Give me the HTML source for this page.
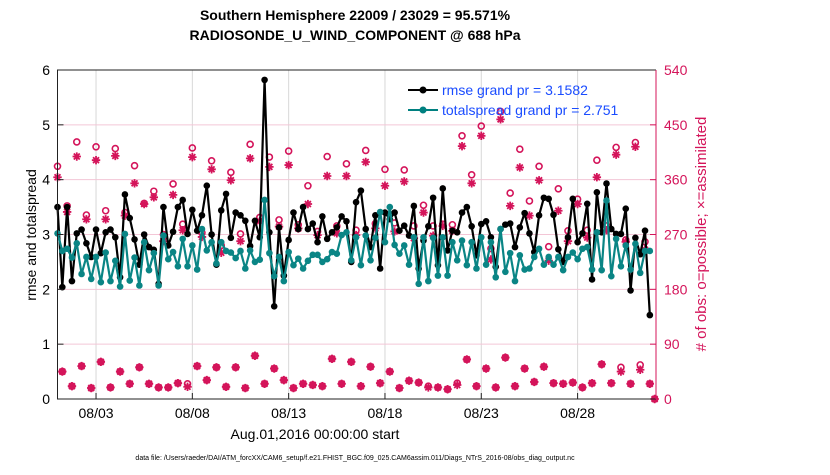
<!DOCTYPE html>
<html><head><meta charset="utf-8"><style>
body{margin:0;background:#fff;}
svg text{font-family:"Liberation Sans",sans-serif;}
</style></head><body>
<svg id="chart" width="830" height="470" viewBox="0 0 830 470" xmlns="http://www.w3.org/2000/svg">
<text x="355" y="20" text-anchor="middle" font-size="14" font-weight="bold">Southern Hemisphere 22009 / 23029 = 95.571%</text>
<text x="355" y="40" text-anchor="middle" font-size="14" font-weight="bold">RADIOSONDE_U_WIND_COMPONENT @ 688 hPa</text>
<g id="grid"></g>
<g id="marks"></g>
<g id="axes"></g>
<text transform="translate(36,235) rotate(-90)" text-anchor="middle" font-size="14">rmse and totalspread</text>
<text transform="translate(706,234) rotate(-90)" text-anchor="middle" font-size="15" fill="#d4145a"># of obs: o=possible; ×=assimilated</text>
<text x="315" y="439" text-anchor="middle" font-size="14">Aug.01,2016 00:00:00 start</text>
<text x="355" y="460" text-anchor="middle" font-size="7">data file: /Users/raeder/DAI/ATM_forcXX/CAM6_setup/f.e21.FHIST_BGC.f09_025.CAM6assim.011/Diags_NTrS_2016-08/obs_diag_output.nc</text>
<g>
<line x1="408" y1="90" x2="438" y2="90" stroke="#000" stroke-width="2"/><circle cx="423" cy="90" r="3.5" fill="#000"/>
<text x="442" y="95" font-size="14" fill="#1a4cff">rmse grand pr = 3.1582</text>
<line x1="408" y1="110" x2="438" y2="110" stroke="#008080" stroke-width="2"/><circle cx="423" cy="110" r="3.5" fill="#008080"/>
<text x="442" y="115" font-size="14" fill="#1a4cff">totalspread grand pr = 2.751</text>
</g>
</svg>
<script>
const rmse=[3.5,2.04,3.5,2.15,3.02,3.09,2.84,2.59,3.09,2.66,3.04,3.09,2.95,2.22,3.73,3.3,2.91,2.45,3.0,2.77,2.72,2.1,3.5,2.8,3.05,3.5,3.63,3.01,3.45,3.07,3.35,3.89,3.0,2.45,3.44,3.74,2.94,3.4,3.35,3.25,2.79,3.25,2.95,5.82,3.04,1.69,3.13,2.25,2.9,3.4,3.1,3.5,3.1,3.2,2.86,3.33,2.92,3.04,3.13,3.33,3.24,2.5,
3.59,3.8,3.1,2.77,3.35,2.38,3.4,3.28,3.4,3.07,3.16,2.98,3.52,2.38,2.89,3.15,3.67,2.44,3.84,2.71,3.07,3.04,3.4,3.5,3.15,2.62,3.19,3.24,2.95,2.41,3.1,3.18,3.2,2.77,3.13,3.39,3.02,2.68,3.35,3.67,3.65,3.36,2.73,2.5,2.95,3.65,2.86,3.02,3.56,2.18,3.77,3.04,3.93,3.1,3.01,3.01,3.47,1.98,2.94,2.64,3.07,1.53];
const spread=[3.02,2.7,2.74,2.58,2.84,2.28,2.59,2.19,2.59,2.13,2.67,2.15,2.52,2.05,3.01,2.16,2.58,2.07,2.86,2.35,2.66,2.07,2.98,2.55,2.68,2.42,2.92,2.42,2.8,2.36,3.1,2.71,2.86,2.47,2.86,2.7,2.67,2.57,2.7,2.38,2.71,2.5,2.54,3.63,2.66,2.24,2.59,2.15,2.68,2.44,2.56,2.38,2.52,2.63,2.63,2.5,2.55,2.68,2.65,2.99,3.04,2.53,
2.95,2.44,2.98,2.53,2.94,3.41,2.86,3.5,2.81,2.65,2.8,2.45,2.95,2.1,2.95,2.15,2.94,2.25,2.95,2.25,2.86,2.53,2.89,2.44,2.86,2.38,2.95,2.45,2.86,2.22,3.1,2.32,2.66,2.15,2.62,2.36,2.38,2.59,2.74,2.45,2.59,2.45,2.59,2.35,2.59,2.67,2.55,2.74,2.77,2.36,3.04,2.35,3.62,2.24,2.92,2.42,2.8,2.36,2.83,2.3,2.7,2.7];
const possible=[382,45,317,21,422,54,302,18,414,61,309,19,411,45,306,25,383,52,321,25,341,19,270,19,353,26,287,25,412,54,273,31,391,52,252,20,372,52,271,18,418,71,298,25,397,50,294,31,407,18,286,25,350,23,275,21,398,66,284,25,386,61,
277,21,408,53,288,26,377,45,289,18,376,30,284,27,318,21,284,19,287,16,286,26,432,65,368,21,448,50,247,19,472,68,338,21,410,50,325,28,382,53,250,26,345,25,276,27,328,19,277,26,392,57,284,26,413,52,261,25,421,56,258,25,0];
const assimilated=[364,45,307,21,398,54,295,18,392,61,295,19,399,45,301,25,354,52,320,25,331,19,259,19,335,26,277,20,397,54,266,31,377,52,240,20,359,52,259,18,395,71,292,25,381,50,283,31,384,18,280,25,320,23,269,21,366,66,272,25,366,61,
269,21,389,53,280,26,350,45,275,18,357,30,264,27,306,19,268,19,284,16,276,23,415,65,354,21,432,50,229,19,459,68,317,21,380,50,301,28,359,53,227,26,309,25,259,27,320,19,265,26,364,57,277,26,401,45,258,25,414,48,245,25,0];
const xTickDays=[2,7,12,17,22,27];
const xTickLabels=["08/03","08/08","08/13","08/18","08/23","08/28"];
const yTicks=[0,1,2,3,4,5,6];
const rTicks=[0,90,180,270,360,450,540];

const L=57.5,R=656,T=70,B=399,NS="http://www.w3.org/2000/svg";
const X0=0,X1=31.07;
const xs=d=>L+(d-X0)/(X1-X0)*(R-L);
const ys=v=>B-v/6*(B-T);
const yr=v=>B-v/540*(B-T);
const tAt=i=>i*0.25;
const CR="#d4145a";
function mk(parent,tag,attrs){const e=document.createElementNS(NS,tag);for(const k in attrs)e.setAttribute(k,attrs[k]);parent.appendChild(e);return e;}
const grid=document.getElementById('grid'),marks=document.getElementById('marks'),axes=document.getElementById('axes');
xTickDays.forEach((d,i)=>{
  const g=mk(grid,'line',{x1:xs(d),x2:xs(d),y1:T,y2:B,stroke:'#d8d8d8','stroke-width':1});
  
  
  const t=mk(axes,'text',{x:xs(d),y:418,'text-anchor':'middle','font-size':14});
  t.textContent=xTickLabels[i];
  
  
  mk(axes,'line',{x1:xs(d),x2:xs(d),y1:B,y2:B-6,stroke:'#222'});
});
yTicks.forEach(v=>{
  if(v>0&&v<6){const g=mk(grid,'line',{x1:L,x2:R,y1:ys(v),y2:ys(v),stroke:'#f3c6d6','stroke-width':1});
  
  }
  const t=mk(axes,'text',{x:50,y:ys(v)+5,'text-anchor':'end','font-size':14});
  t.textContent=v;
  
  
  mk(axes,'line',{x1:L,x2:L+6,y1:ys(v),y2:ys(v),stroke:'#222'});
});
rTicks.forEach(v=>{
  const t=mk(axes,'text',{x:664,y:yr(v)+5,'font-size':14,fill:CR});
  t.textContent=v;
  
  
  mk(axes,'line',{x1:R,x2:R-6,y1:yr(v),y2:yr(v),stroke:CR});
});
mk(axes,'polyline',{points:`${R},${T} ${L},${T} ${L},${B} ${R},${B}`,fill:'none',stroke:'#222','stroke-width':1});
mk(axes,'line',{x1:R,x2:R,y1:T,y2:B,stroke:CR,'stroke-width':1});

possible.forEach((v,i)=>{
  const c=mk(marks,'circle',{cx:xs(tAt(i)),cy:yr(v),r:3,fill:'none',stroke:CR,'stroke-width':1.6});
  
  
});
assimilated.forEach((v,i)=>{
  const cx=xs(tAt(i)),cy=yr(v),r=4.2;let d='';
  for(let k=0;k<4;k++){const a=k*Math.PI/4;d+=`M${cx-r*Math.cos(a)},${cy-r*Math.sin(a)}L${cx+r*Math.cos(a)},${cy+r*Math.sin(a)}`;}
  const p=mk(marks,'path',{d:d,stroke:CR,'stroke-width':1.8,fill:'none'});
  
  
});
function series(arr,col,name){
  const pl=mk(marks,'polyline',{points:arr.map((v,i)=>xs(tAt(i))+','+ys(v)).join(' '),fill:'none',stroke:col,'stroke-width':2.2,'stroke-linejoin':'round'});
  
  
  arr.forEach((v,i)=>{const c=mk(marks,'circle',{cx:xs(tAt(i)),cy:ys(v),r:3.3,fill:col});
    
    });
}
series(rmse,'#000','rmse');
series(spread,'#0a8585','totalspread');
</script>
</body></html>
